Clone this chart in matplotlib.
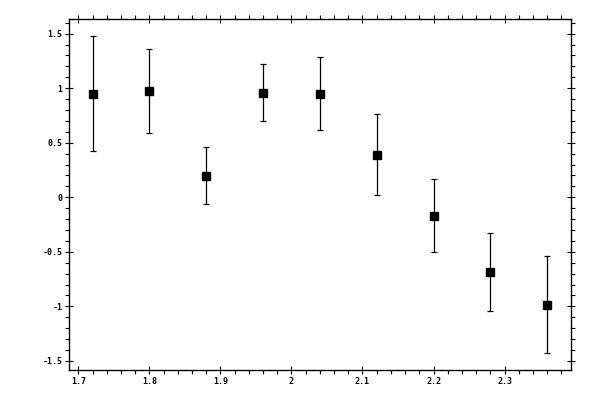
import matplotlib
matplotlib.use("Agg")
import matplotlib.pyplot as plt
from matplotlib.ticker import MultipleLocator, FuncFormatter

plt.rcParams['axes.unicode_minus'] = False
plt.rcParams['font.family'] = ['DejaVu Sans Mono']

x = [1.72, 1.80, 1.88, 1.96, 2.04, 2.12, 2.20, 2.28, 2.36]
y = [0.951, 0.970, 0.199, 0.960, 0.951, 0.392, -0.168, -0.682, -0.985]
err = [0.528, 0.385, 0.265, 0.257, 0.338, 0.375, 0.332, 0.358, 0.445]

fig = plt.figure(figsize=(6, 4), dpi=100)
ax = fig.add_axes([0.1155, 0.075, 0.951 - 0.1155, 0.952 - 0.075])

ax.errorbar(x, y, yerr=err, fmt='s', color='black', markersize=5.5,
            elinewidth=0.9, capsize=2, capthick=0.9, ecolor='black')

ax.set_xlim(1.6873, 2.393)
ax.set_ylim(-1.583, 1.632)

ax.xaxis.set_major_locator(MultipleLocator(0.1))
ax.xaxis.set_minor_locator(MultipleLocator(0.02))
ax.yaxis.set_major_locator(MultipleLocator(0.5))
ax.yaxis.set_minor_locator(MultipleLocator(0.1))
fmt = FuncFormatter(lambda v, p: ('%g' % round(v, 6)))
ax.xaxis.set_major_formatter(fmt)
ax.yaxis.set_major_formatter(fmt)

ax.tick_params(which='major', direction='inout', length=6, width=0.8,
               top=True, right=True, labelsize=6, pad=2)
ax.tick_params(which='minor', direction='out', length=2.8, width=0.8,
               top=True, right=True)
for lab in ax.get_xticklabels() + ax.get_yticklabels():
    lab.set_fontweight('bold')
for s in ax.spines.values():
    s.set_linewidth(1.0)

fig.savefig('out.png', dpi=100)
